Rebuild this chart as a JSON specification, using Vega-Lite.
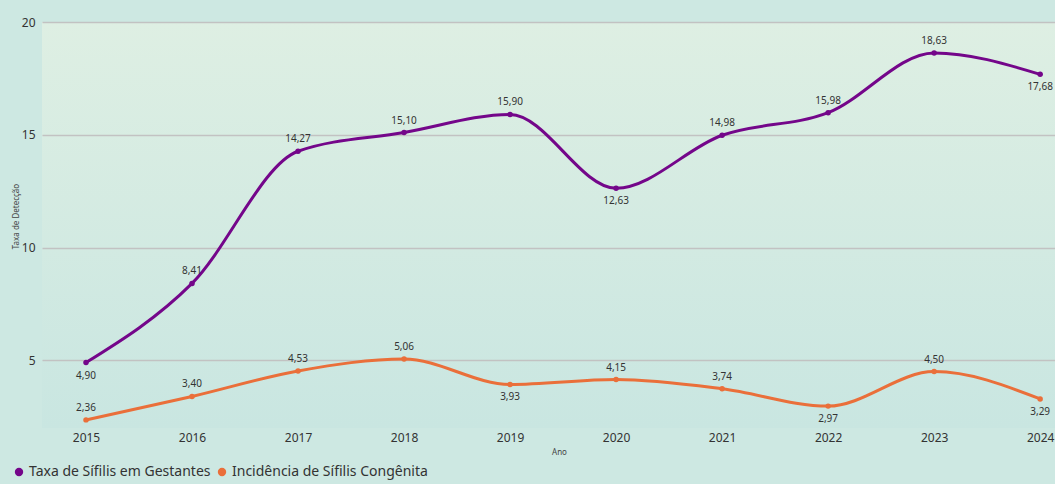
{
  "$schema": "https://vega.github.io/schema/vega-lite/v6.json",
  "width": 1013,
  "height": 406,
  "autosize": {"type": "none"},
  "padding": {"left": 42, "top": 22, "right": 0, "bottom": 56},
  "background": "#cde8e2",
  "config": {
    "locale": {"number": {"decimal": ",", "thousands": ".", "grouping": [3], "currency": ["R$", ""]}},
    "font": "Noto Sans",
    "view": {
      "stroke": null,
      "fill": {"gradient": "linear", "x1": 0, "y1": 0, "x2": 0, "y2": 1,
        "stops": [{"offset": 0, "color": "#deefe3"}, {"offset": 1, "color": "#c9e6e1"}]}
    }
  },
  "data": {
    "values": [
      {"ano": 2015, "serie": "Taxa de Sífilis em Gestantes", "valor": 4.90},
      {"ano": 2016, "serie": "Taxa de Sífilis em Gestantes", "valor": 8.41},
      {"ano": 2017, "serie": "Taxa de Sífilis em Gestantes", "valor": 14.27},
      {"ano": 2018, "serie": "Taxa de Sífilis em Gestantes", "valor": 15.10},
      {"ano": 2019, "serie": "Taxa de Sífilis em Gestantes", "valor": 15.90},
      {"ano": 2020, "serie": "Taxa de Sífilis em Gestantes", "valor": 12.63},
      {"ano": 2021, "serie": "Taxa de Sífilis em Gestantes", "valor": 14.98},
      {"ano": 2022, "serie": "Taxa de Sífilis em Gestantes", "valor": 15.98},
      {"ano": 2023, "serie": "Taxa de Sífilis em Gestantes", "valor": 18.63},
      {"ano": 2024, "serie": "Taxa de Sífilis em Gestantes", "valor": 17.68},
      {"ano": 2015, "serie": "Incidência de Sífilis Congênita", "valor": 2.36},
      {"ano": 2016, "serie": "Incidência de Sífilis Congênita", "valor": 3.40},
      {"ano": 2017, "serie": "Incidência de Sífilis Congênita", "valor": 4.53},
      {"ano": 2018, "serie": "Incidência de Sífilis Congênita", "valor": 5.06},
      {"ano": 2019, "serie": "Incidência de Sífilis Congênita", "valor": 3.93},
      {"ano": 2020, "serie": "Incidência de Sífilis Congênita", "valor": 4.15},
      {"ano": 2021, "serie": "Incidência de Sífilis Congênita", "valor": 3.74},
      {"ano": 2022, "serie": "Incidência de Sífilis Congênita", "valor": 2.97},
      {"ano": 2023, "serie": "Incidência de Sífilis Congênita", "valor": 4.50},
      {"ano": 2024, "serie": "Incidência de Sífilis Congênita", "valor": 3.29}
    ]
  },
  "encoding": {
    "x": {
      "field": "ano", "type": "quantitative",
      "scale": {"domain": [2014.585, 2024.14], "nice": false, "zero": false},
      "axis": {
        "title": "Ano", "values": [2015, 2016, 2017, 2018, 2019, 2020, 2021, 2022, 2023, 2024],
        "format": "d", "grid": false, "domain": false, "ticks": false, "labelFlush": false,
        "labelFontSize": 12, "labelColor": "#333333", "labelPadding": 4,
        "titleFontSize": 8, "titleFontWeight": "normal", "titleColor": "#444444",
        "titleX": 517, "titlePadding": 5
      }
    },
    "y": {
      "field": "valor", "type": "quantitative",
      "scale": {"domain": [2, 20], "nice": false, "zero": false},
      "axis": {
        "title": "Taxa de Detecção", "values": [5, 10, 15, 20],
        "grid": true, "gridColor": "#c2c2c2", "gridWidth": 1.5,
        "domain": false, "ticks": false,
        "labelFontSize": 12, "labelColor": "#333333", "labelPadding": 7,
        "titleFontSize": 8, "titleFontWeight": "normal", "titleColor": "#444444",
        "titleX": -22, "titleY": 194
      }
    },
    "color": {
      "field": "serie", "type": "nominal",
      "scale": {"domain": ["Taxa de Sífilis em Gestantes", "Incidência de Sífilis Congênita"], "range": ["#74068a", "#ea6f3a"]},
      "legend": {
        "title": null, "orient": "none", "direction": "horizontal",
        "legendX": -30, "legendY": 443,
        "symbolType": "circle", "symbolSize": 70, "symbolStrokeWidth": 0,
        "labelFontSize": 14, "labelColor": "#333333", "labelOffset": 3, "columnPadding": 4,
        "labelLimit": 0
      }
    }
  },
  "layer": [
    {"mark": {"type": "line", "interpolate": "monotone", "strokeWidth": 3}},
    {"mark": {"type": "point", "filled": true, "opacity": 1, "size": 30}},
    {
      "transform": [{"filter": "!((datum.serie == 'Taxa de Sífilis em Gestantes' && indexof([2015, 2020, 2024], datum.ano) >= 0) || (datum.serie == 'Incidência de Sífilis Congênita' && indexof([2019, 2022, 2024], datum.ano) >= 0))"}],
      "mark": {"type": "text", "dy": -12, "fontSize": 10, "color": "#333333"},
      "encoding": {"text": {"field": "valor", "type": "quantitative", "format": ".2f"}, "color": {"value": "#333333"}}
    },
    {
      "transform": [{"filter": "(datum.serie == 'Taxa de Sífilis em Gestantes' && indexof([2015, 2020, 2024], datum.ano) >= 0) || (datum.serie == 'Incidência de Sífilis Congênita' && indexof([2019, 2022, 2024], datum.ano) >= 0)"}],
      "mark": {"type": "text", "dy": 13, "fontSize": 10, "color": "#333333"},
      "encoding": {"text": {"field": "valor", "type": "quantitative", "format": ".2f"}, "color": {"value": "#333333"}}
    }
  ]
}
